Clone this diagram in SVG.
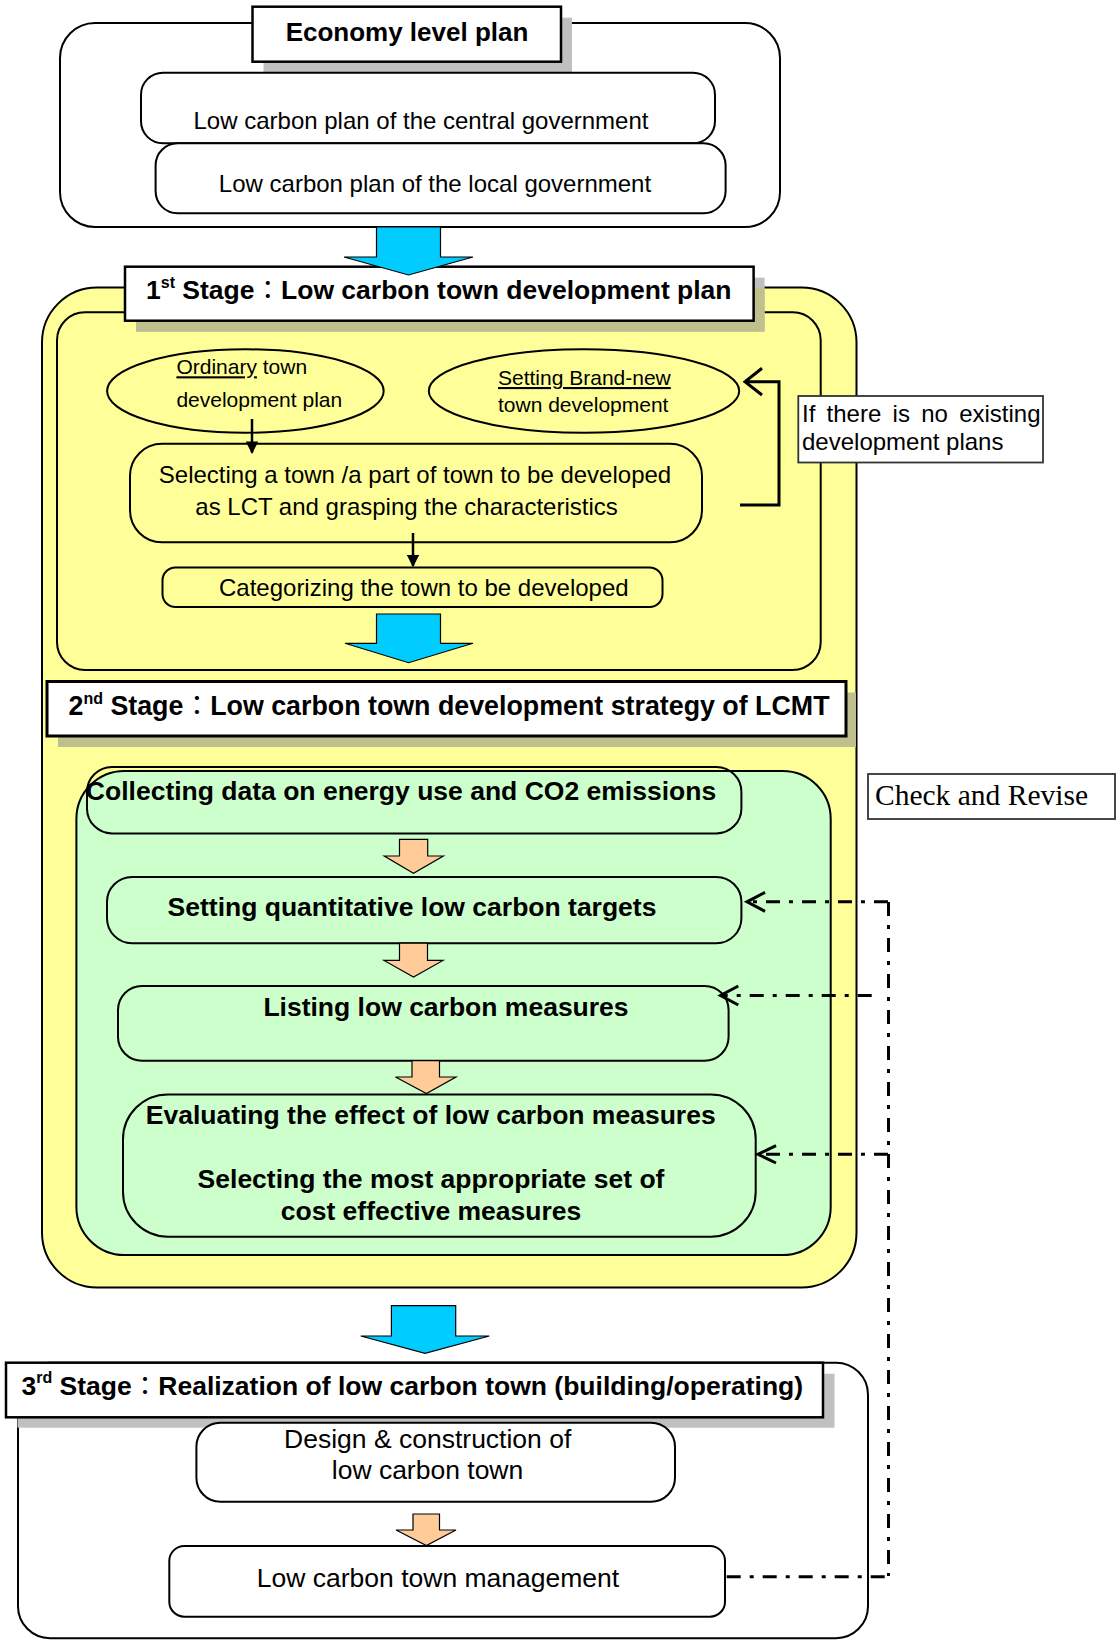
<svg xmlns="http://www.w3.org/2000/svg" width="1120" height="1640" viewBox="0 0 1120 1640">
<style>
.t{font-family:"Liberation Sans",Arial,"Noto Sans CJK JP",sans-serif;fill:#000}
.bd{font-weight:bold}
.cn{font-weight:normal}
.ln{stroke:#000;stroke-width:2}
.tb{fill:#fff;stroke:#000;stroke-width:2.5}
.y{fill:#ffff99}
.g{fill:#ccffcc}
.w{fill:#fff}
.blue{fill:#00ccff;stroke:#000;stroke-width:1.2}
.org{fill:#ffcc99;stroke:#000;stroke-width:1.2}
.sg{fill:#c0c0c0}
.so{fill:#c0c08f}
.dd{fill:none;stroke:#000;stroke-width:3;stroke-dasharray:14 9 4 9}
.ah{fill:none;stroke:#000;stroke-width:3}
</style>
<defs>
<clipPath id="yclip"><rect x="42" y="287.5" width="814.5" height="1000" rx="55"/></clipPath>
<marker id="fa" viewBox="0 0 10 10" refX="9" refY="5" markerWidth="5" markerHeight="5" orient="auto"><path d="M0,0 L10,5 L0,10 z" fill="#000"/></marker>
</defs>

<g id="economy">
<rect class="w ln" x="60" y="23" width="720" height="204" rx="35"/>
<rect class="sg" x="263.5" y="17.7" width="308.5" height="55"/>
<rect class="tb" x="252.5" y="6.7" width="308.5" height="55"/>
<text class="t bd" x="407" y="40.5" font-size="26" text-anchor="middle">Economy level plan</text>
</g>
<g id="central">
<rect class="w ln" x="141" y="72.7" width="574" height="70.6" rx="22"/>
<text class="t" x="421" y="129" font-size="24" text-anchor="middle">Low carbon plan of the central government</text>
</g>
<g id="local">
<rect class="w ln" x="155.6" y="143.3" width="570" height="70" rx="22"/>
<text class="t" x="435" y="191.5" font-size="24" text-anchor="middle">Low carbon plan of the local government</text>
</g>

<g id="stage1">
<rect class="y ln" x="42" y="287.5" width="814.5" height="1000" rx="55"/>
<rect class="y ln" x="57" y="312.3" width="763.7" height="357.7" rx="28"/>
<rect class="sg" x="136" y="277.7" width="628.6" height="54"/>
<rect class="so" x="136" y="277.7" width="628.6" height="54" clip-path="url(#yclip)"/>
<rect class="tb" x="125" y="266.7" width="628.6" height="54"/>
<text class="t bd" x="146" y="299.3" font-size="26.5">1<tspan font-size="16" dy="-11">st</tspan><tspan dy="11"> Stage</tspan><tspan class="cn">：</tspan>Low carbon town development plan</text>
</g>

<g id="ordinary">
<ellipse cx="245.4" cy="391" rx="138.3" ry="41.7" fill="none" class="ln"/>
<text class="t" x="176.4" y="374.3" font-size="21"><tspan text-decoration="underline">Ordinary</tspan> town</text>
<text class="t" x="176.4" y="406.7" font-size="21">development plan</text>
</g>
<g id="brandnew">
<ellipse cx="584" cy="391" rx="155.2" ry="41.7" fill="none" class="ln"/>
<text class="t" x="498" y="385" font-size="21" text-decoration="underline">Setting Brand-new</text>
<text class="t" x="498" y="411.7" font-size="21">town development</text>
</g>
<g id="selecting">
<rect class="y ln" x="130" y="443.8" width="572" height="98.5" rx="32"/>
<text class="t" x="415" y="482.7" font-size="24" text-anchor="middle">Selecting a town /a part of town to be developed</text>
<text class="t" x="406.5" y="515" font-size="24" text-anchor="middle">as LCT and grasping the characteristics</text>
</g>
<g id="categorizing">
<rect class="y ln" x="162.5" y="567.5" width="500" height="39.5" rx="13"/>
<text class="t" x="423.8" y="596" font-size="24" text-anchor="middle">Categorizing the town to be developed</text>
</g>
<g id="noplans">
<rect x="798.3" y="396" width="244.7" height="66.5" fill="#fff" stroke="#333" stroke-width="1.8"/>
<text class="t" x="802" y="421.7" font-size="24" word-spacing="4.6">If there is no existing</text>
<text class="t" x="802" y="450" font-size="24">development plans</text>
</g>

<g id="stage2">
<rect class="so" x="58" y="692.5" width="798" height="54.5"/>
<rect x="47" y="681.5" width="799" height="54.5" fill="#fff" stroke="#000" stroke-width="3"/>
<text class="t bd" x="68.5" y="714.5" font-size="26.8">2<tspan font-size="16" dy="-11">nd</tspan><tspan dy="11"> Stage</tspan><tspan class="cn">：</tspan>Low carbon town development strategy of LCMT</text>
</g>

<g id="lcmt">
<rect class="g ln" x="76.4" y="771" width="754.3" height="484" rx="48"/>
</g>
<g id="collecting">
<rect class="ln" fill="none" x="87" y="767" width="654.4" height="66.4" rx="25"/>
<text class="t bd" x="401" y="799.5" font-size="26.5" text-anchor="middle">Collecting data on energy use and CO2 emissions</text>
</g>
<g id="targets">
<rect class="g ln" x="107" y="877" width="634.4" height="66.2" rx="25"/>
<text class="t bd" x="412" y="916" font-size="26.5" text-anchor="middle">Setting quantitative low carbon targets</text>
</g>
<g id="listing">
<rect class="g ln" x="118" y="986" width="610.6" height="74.7" rx="24"/>
<text class="t bd" x="446" y="1016" font-size="26.5" text-anchor="middle">Listing low carbon measures</text>
</g>
<g id="evaluating">
<rect class="g ln" x="123" y="1094.4" width="632.7" height="142.3" rx="45"/>
<text class="t bd" x="430.7" y="1123.8" font-size="26.5" text-anchor="middle">Evaluating the effect of low carbon measures</text>
<text class="t bd" x="431" y="1188" font-size="26.5" text-anchor="middle">Selecting the most appropriate set of</text>
<text class="t bd" x="431" y="1219.5" font-size="26.5" text-anchor="middle">cost effective measures</text>
</g>
<g id="checkrevise">
<rect x="868" y="774" width="247" height="45" fill="#fff" stroke="#333" stroke-width="1.8"/>
<text x="875" y="805.4" font-size="29.5" font-family="'Liberation Serif','Times New Roman',serif">Check and Revise</text>
</g>

<g id="stage3">
<rect class="w ln" x="18" y="1362.7" width="850" height="275.5" rx="32"/>
<rect class="sg" x="17.5" y="1373.7" width="817" height="54"/>
<rect class="tb" x="6" y="1362.7" width="817" height="54.6"/>
<text class="t bd" x="21.5" y="1395.3" font-size="26.5">3<tspan font-size="16" dy="-12">rd</tspan><tspan dy="12"> Stage</tspan><tspan class="cn">：</tspan>Realization of low carbon town (building/operating)</text>
</g>
<g id="design">
<rect class="w ln" x="196.4" y="1422.7" width="478.6" height="79" rx="24"/>
<text class="t" x="427.7" y="1448.3" font-size="26.5" text-anchor="middle">Design &amp; construction of</text>
<text class="t" x="427.5" y="1479.3" font-size="26.5" text-anchor="middle">low carbon town</text>
</g>
<g id="management">
<rect class="w ln" x="169.3" y="1546" width="555.7" height="70.7" rx="15"/>
<text class="t" x="438" y="1587.3" font-size="26.5" text-anchor="middle">Low carbon town management</text>
</g>

<g id="connectors">
<polygon class="blue" points="376.5,227 440.5,227 440.5,257 473,257 408.5,275 344,257 376.5,257"/>
<polygon class="blue" points="376.5,614 440.5,614 440.5,643.3 473,643.3 408.6,662.7 345,643.3 376.5,643.3"/>
<polygon class="blue" points="391.4,1305.7 455.7,1305.7 455.7,1336 489.3,1336 425,1353.3 360.7,1336 391.4,1336"/>
<line x1="252" y1="419" x2="252" y2="452.7" stroke="#000" stroke-width="2.5" marker-end="url(#fa)"/>
<line x1="413" y1="533" x2="413" y2="566" stroke="#000" stroke-width="2.5" marker-end="url(#fa)"/>
<polyline class="ah" points="740,505 779,505 779,381.7 746,381.7"/>
<polyline class="ah" points="762,368.3 745,381.7 762,395"/>
<polygon class="org" points="399.5,839.3 427.7,839.3 427.7,856 443.3,856 413.5,873.3 384.3,856 399.5,856"/>
<polygon class="org" points="399.5,943.2 427.5,943.2 427.5,960.4 443,960.4 413.5,977 384,960.4 399.5,960.4"/>
<polygon class="org" points="412,1060.7 439.5,1060.7 439.5,1077 456,1077 426.4,1093.6 395.5,1077 412,1077"/>
<polygon class="org" points="413,1514 439.5,1514 439.5,1530 456,1530 426.4,1545.5 396,1530 413,1530"/>
<line class="dd" x1="888.5" y1="902" x2="888.5" y2="1576"/>
<line class="dd" x1="888" y1="901.8" x2="748" y2="901.8"/>
<polyline class="ah" points="765,892.3 747,901.8 765,911.3"/>
<line class="dd" x1="871.7" y1="995.5" x2="722" y2="995.5"/>
<polyline class="ah" points="738.3,986 720.5,995.5 738.3,1005"/>
<line class="dd" x1="888" y1="1154.3" x2="759" y2="1154.3"/>
<polyline class="ah" points="776,1145.7 758,1154.3 776,1163"/>
<line class="dd" x1="726.7" y1="1576.7" x2="888" y2="1576.7"/>
</g>
</svg>
